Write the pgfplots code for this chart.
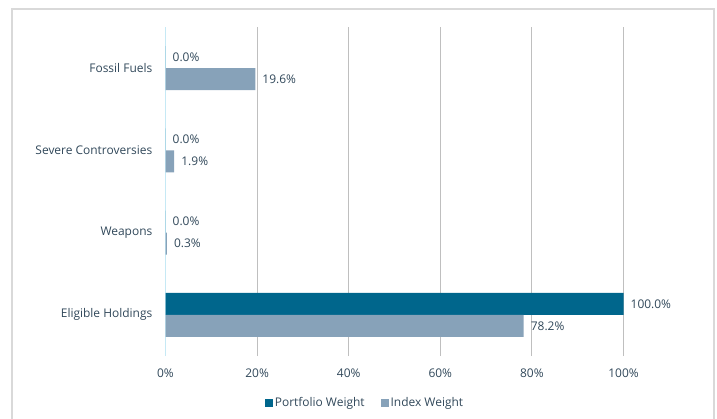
\documentclass[border=0pt]{standalone}
\usepackage{pgfplots}
\pgfplotsset{compat=1.18}
\usepackage{fontspec}
\setmainfont{Open Sans}
\definecolor{portfolio}{HTML}{00668C}
\definecolor{indexw}{HTML}{87A2B9}
\definecolor{txt}{HTML}{31485A}
\definecolor{gridc}{HTML}{BFBFBF}
\definecolor{axisc}{HTML}{C6E9F5}
\definecolor{framec}{HTML}{D9D9D9}

\begin{document}
\begin{tikzpicture}
\path[use as bounding box] (0,0) rectangle (717bp,419bp);
\draw[framec, line width=2.5bp] (12bp,-2bp) -- (12bp,410bp) -- (714bp,410bp) -- (714bp,-2bp);
\begin{axis}[
  at={(165.5bp,63bp)}, anchor=south west,
  scale only axis, width=458bp, height=329bp,
  xbar, bar width=22bp,
  xmin=0, xmax=100, ymin=-0.5, ymax=3.5,
  axis line style={draw=none},
  major tick length=0pt,
  /pgf/number format/assume math mode=true,
  xtick={20,40,60,80,100},
  xticklabels={20\%,40\%,60\%,80\%,100\%},
  extra x ticks={0}, extra x tick labels={0\%},
  extra x tick style={grid style={axisc, line width=1bp}},
  xmajorgrids, grid style={gridc, line width=1bp},
  ytick={0,1,2,3},
  yticklabels={Eligible Holdings,Weapons,Severe Controversies,Fossil Fuels},
  tick label style={font=\fontsize{12}{14}\selectfont, text=txt, inner sep=0pt},
  yticklabel style={xshift=-13bp},
  xticklabel style={yshift=-13bp},
  nodes near coords={\pgfmathprintnumber[fixed,fixed zerofill,precision=1]{\pgfplotspointmeta}\%},
  point meta=x,
  nodes near coords style={anchor=west, inner sep=0pt, xshift=7bp, font=\fontsize{12}{14}\selectfont, text=txt},
  legend style={at={(rel axis cs:0.4356,-0.1429)}, anchor=center, draw=none, fill=none,
    font=\fontsize{12}{14}\selectfont, text=txt, legend columns=2,
    /tikz/every even column/.append style={column sep=14bp}},
  legend image code/.code={\path[#1] (0bp,-4bp) rectangle (8bp,4bp);},
]
\addplot[fill=portfolio, draw=none, bar shift=11bp] coordinates {(100,0) (0,1) (0,2) (0,3)};
\addplot[fill=indexw, draw=none, bar shift=-11bp] coordinates {(78.2,0) (0.3,1) (1.9,2) (19.6,3)};
\legend{Portfolio Weight, Index Weight}
\end{axis}
\end{tikzpicture}
\end{document}
